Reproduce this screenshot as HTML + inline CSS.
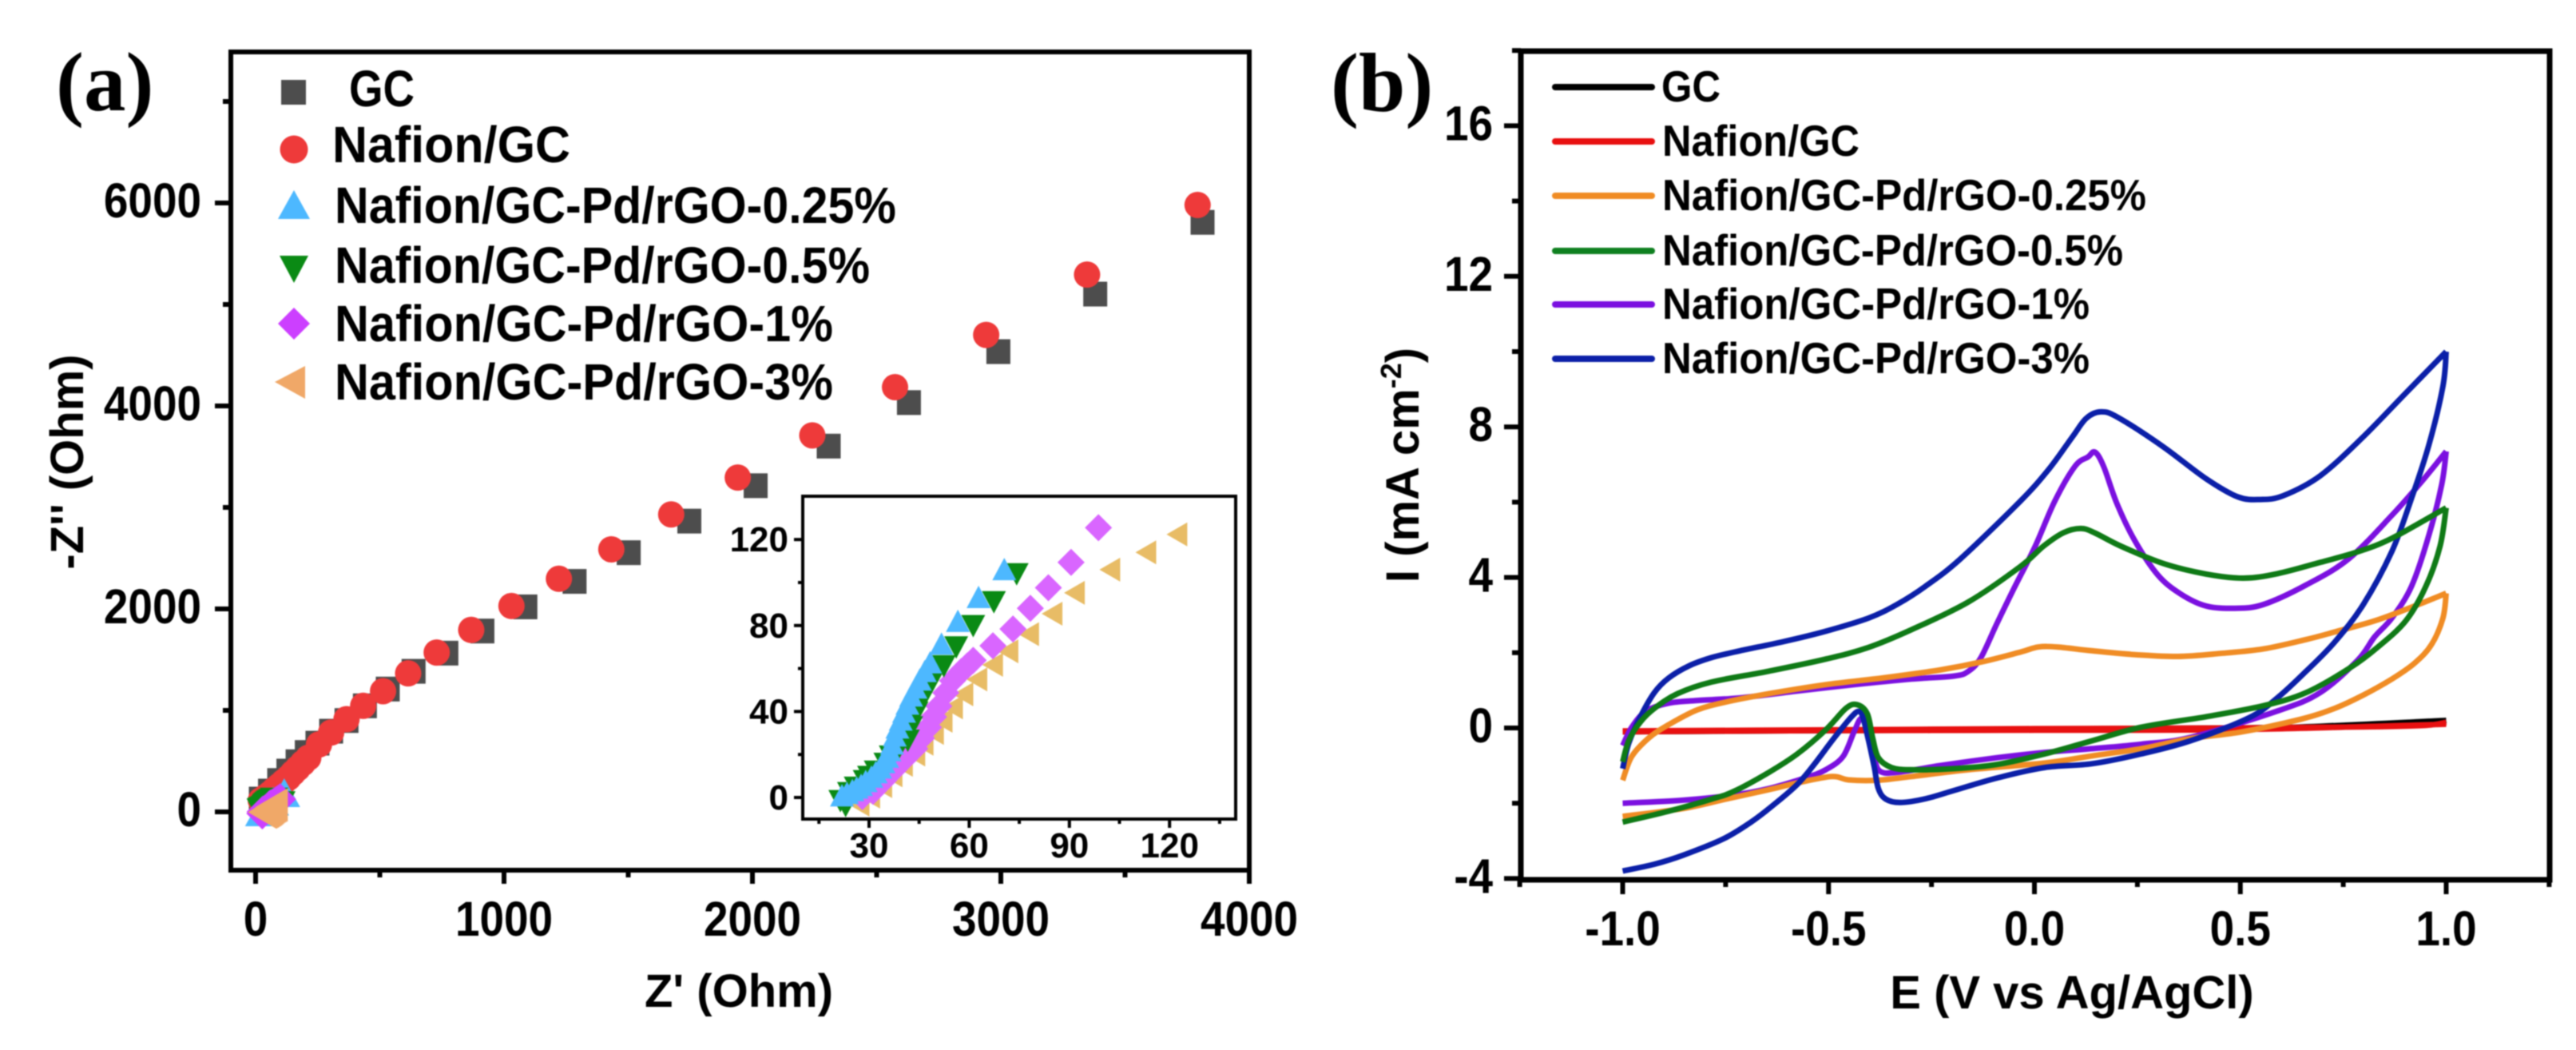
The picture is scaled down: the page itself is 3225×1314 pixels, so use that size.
<!DOCTYPE html>
<html lang="en">
<head>
<meta charset="utf-8">
<title>EIS and CV panels</title>
<style>
html,body{margin:0;padding:0;background:#fff;width:3225px;height:1314px;overflow:hidden}
svg{display:block;filter:blur(0.7px)}
text{font-family:"Liberation Sans",Arial,sans-serif;font-weight:700;fill:#000}
.panel{font-family:"Liberation Serif","Times New Roman",serif;font-size:105px}
.lega{font-size:64px}
.legb{font-size:55px}
.title{font-size:58px}
</style>
</head>
<body>
<svg id="figure" xmlns="http://www.w3.org/2000/svg" width="3225" height="1314" viewBox="0 0 3225 1314">
  <rect width="3225" height="1314" fill="#fff"/>
  <g id="panelA">
    <text class="panel" x="70" y="138">(a)</text>
    <g id="marksA"></g>
    <rect x="289" y="65" width="1275" height="1024" fill="none" stroke="#000" stroke-width="6"/>
    <g id="ticksA"></g>
    <text class="title" x="925" y="1260" text-anchor="middle">Z' (Ohm)</text>
    <text class="title" transform="translate(104,578) rotate(-90)" text-anchor="middle">-Z'' (Ohm)</text>
    <g>
      <rect x="352" y="100" width="31" height="31" fill="#4d4d4d"/>
      <circle cx="368" cy="187" r="17.5" fill="#ee3a3a"/>
      <polygon points="368,238 388,274 348,274" fill="#4db8ff"/>
      <polygon points="350,320 386,320 368,354" fill="#0a8a14"/>
      <polygon points="368,385 388,405 368,425 348,405" fill="#cc3fff"/>
      <polygon points="344,478 382,458 382,499" fill="#f0a868"/>
      <text class="lega" x="437" y="133" textLength="82" lengthAdjust="spacingAndGlyphs">GC</text>
      <text class="lega" x="416" y="203" textLength="298" lengthAdjust="spacingAndGlyphs">Nafion/GC</text>
      <text class="lega" x="419" y="279" textLength="703" lengthAdjust="spacingAndGlyphs">Nafion/GC-Pd/rGO-0.25%</text>
      <text class="lega" x="419" y="354" textLength="670" lengthAdjust="spacingAndGlyphs">Nafion/GC-Pd/rGO-0.5%</text>
      <text class="lega" x="419" y="427" textLength="624" lengthAdjust="spacingAndGlyphs">Nafion/GC-Pd/rGO-1%</text>
      <text class="lega" x="419" y="500" textLength="624" lengthAdjust="spacingAndGlyphs">Nafion/GC-Pd/rGO-3%</text>
    </g>
    <g>
      <rect x="1005" y="621" width="542" height="404" fill="#fff" stroke="#000" stroke-width="4"/>
      <g id="marksI"></g>
      <g id="ticksI"></g>
    </g>
  </g>
  <g id="panelB">
    <text class="panel" x="1666" y="139">(b)</text>
    <g id="linesB"></g>
    <rect x="1904" y="64" width="1288" height="1037" fill="none" stroke="#000" stroke-width="7"/>
    <g id="ticksB"></g>
    <text class="title" x="2594" y="1262" text-anchor="middle">E (V vs Ag/AgCl)</text>
    <text class="title" transform="translate(1776,582) rotate(-90)" text-anchor="middle">I (mA cm<tspan font-size="36" dy="-22">-2</tspan><tspan dy="22">)</tspan></text>
    <g>
      <line x1="1947" x2="2068" y1="109" y2="109" stroke="#000" stroke-width="8" stroke-linecap="round"/>
      <line x1="1947" x2="2068" y1="177" y2="177" stroke="#e81010" stroke-width="8" stroke-linecap="round"/>
      <line x1="1947" x2="2068" y1="245" y2="245" stroke="#f08c24" stroke-width="8" stroke-linecap="round"/>
      <line x1="1947" x2="2068" y1="314" y2="314" stroke="#0f8020" stroke-width="8" stroke-linecap="round"/>
      <line x1="1947" x2="2068" y1="381" y2="381" stroke="#7b10e0" stroke-width="8" stroke-linecap="round"/>
      <line x1="1947" x2="2068" y1="449" y2="449" stroke="#0b1fa8" stroke-width="8" stroke-linecap="round"/>
      <text class="legb" x="2080" y="127" textLength="74" lengthAdjust="spacingAndGlyphs">GC</text>
      <text class="legb" x="2081" y="195" textLength="247" lengthAdjust="spacingAndGlyphs">Nafion/GC</text>
      <text class="legb" x="2081" y="263" textLength="606" lengthAdjust="spacingAndGlyphs">Nafion/GC-Pd/rGO-0.25%</text>
      <text class="legb" x="2081" y="332" textLength="577" lengthAdjust="spacingAndGlyphs">Nafion/GC-Pd/rGO-0.5%</text>
      <text class="legb" x="2081" y="399" textLength="535" lengthAdjust="spacingAndGlyphs">Nafion/GC-Pd/rGO-1%</text>
      <text class="legb" x="2081" y="467" textLength="535" lengthAdjust="spacingAndGlyphs">Nafion/GC-Pd/rGO-3%</text>
    </g>
  </g>
</svg>
<script>
/* ---------- Panel (a) data: [Z', -Z''] in Ohm ---------- */
const gcPoints=[[3812,5809],[3380,5102],[2990,4535],[2630,4033],[2307,3604],[2013,3214],[1746,2865],[1502,2554],[1284,2271],[1086,2020],[913,1782],[768,1564],[636,1385],[532,1210],[440,1045],[366,900],[304,795],[249,677],[206,585],[169,494],[132,402],[95,309],[58,205],[21,126]];
const nafionPoints=[[3792,5980],[3347,5294],[2941,4700],[2574,4185],[2241,3710],[1941,3294],[1673,2931],[1432,2587],[1221,2297],[1030,2029],[868,1793],[729,1570],[614,1365],[513,1189],[433,1045],[366,913],[304,782],[255,664],[212,533],[190,480],[169,428],[150,382],[132,336],[113,296],[95,257],[76,218],[58,179],[40,146],[21,113]];
const pd025Points=[[70.5,106.3],[62.8,93.3],[56.6,82.2],[51.7,71.6],[48.3,62.9],[46.7,58.9],[45.2,54.9],[43.9,51.2],[42.6,47.5],[41.5,43.7],[40.5,40],[39.5,36.3],[38.5,32.6],[37.7,28.9],[36.9,25.2],[36.1,22],[35.4,19],[34.3,16.5],[33.3,14],[32,11.8],[30.7,9.7],[29,7.7],[27.6,5.9],[26.3,4.7],[25,3.5],[23.4,2.2],[21.9,1]];
const pd05Points=[[74.2,103.8],[67.4,90.8],[61.2,79.7],[56.1,69.8],[52.4,61],[48.8,53.7],[46.2,46.2],[44.2,39.4],[42.6,32.6],[41.6,26.4],[39,23],[36.5,19],[34.9,15.6],[32,12],[30,9.5],[28.7,7.6],[26,4.5],[24,2],[21.4,-1.7],[23,-4]];
const pd1Points=[[98.7,125.5],[90.5,109.4],[83.7,97.6],[78.3,88],[73.1,78.4],[67.1,70.6],[61.2,63.8],[59.4,61.2],[57.6,58.6],[55,54.3],[53,48.7],[50.9,42.5],[49.3,37.5],[47.8,32.6],[45.7,27.6],[43.7,22.7],[40.5,17.7],[37.4,12.8],[34.3,7.8],[31.2,2.9],[28,0.4]];
const pd3Points=[[122.2,122.4],[112.9,114],[102.1,106],[91.5,95.2],[84.8,85.5],[77.8,76],[71.6,68],[67,61.7],[62.3,54.9],[58.1,48],[55,41.9],[51.9,35.7],[49.3,30],[46.2,25],[43.7,20],[40,15.2],[36.9,10.3],[33.8,5.3],[30.2,0.4],[27,-3.3]];
/* low-frequency tails seen only on the main axes */
const pd025Tail=[[115,189]];
const pd05Tail=[[103,70]];
const pd1Tail=[[80,80],[27,-16]];
const pd3MainLimit=[75];

const xTicksA=[0,1000,2000,3000,4000];
const xMinorA=[500,1500,2500,3500];
const yTicksA=[0,2000,4000,6000];
const yMinorA=[1000,3000,5000,7000];
const xTicksI=[30,60,90,120];
const xMinorI=[15,45,75,105,135];
const yTicksI=[0,40,80,120];
const yMinorI=[20,60,100];

/* ---------- Panel (b) data: [E, I] ---------- */
const gcForward=[[-1,-0.1],[-0.5,-0.06],[0,-0.03],[0.5,0],[0.8,0.04],[0.95,0.1],[1,0.2]];
const gcReturn=[[1,0.2],[0.5,-0.03],[0,-0.05],[-0.5,-0.07],[-1,-0.1]];
const nafionForward=[[-1,-0.08],[-0.5,-0.05],[0,-0.02],[0.5,0],[0.8,0.03],[0.95,0.07],[1,0.15]];
const nafionReturn=[[1,0.1],[0.5,-0.04],[0,-0.06],[-0.5,-0.07],[-1,-0.1]];
const orangeForward=[[-1,-1.39],[-0.978,-0.76],[-0.936,-0.26],[-0.888,0.09],[-0.819,0.48],[-0.749,0.69],[-0.645,0.91],[-0.507,1.15],[-0.368,1.33],[-0.23,1.54],[-0.126,1.76],[-0.033,2.02],[0.009,2.15],[0.057,2.15],[0.14,2.05],[0.244,1.95],[0.348,1.9],[0.452,1.98],[0.556,2.1],[0.66,2.35],[0.729,2.55],[0.833,2.87],[0.937,3.3],[1,3.58]];
const orangeReturn=[[1,3.58],[0.992,2.92],[0.964,2.21],[0.923,1.72],[0.868,1.3],[0.798,0.87],[0.729,0.52],[0.646,0.23],[0.5,-0.11],[0.379,-0.28],[0.259,-0.55],[0.14,-0.74],[0.025,-0.93],[-0.16,-1.11],[-0.299,-1.29],[-0.382,-1.39],[-0.451,-1.38],[-0.493,-1.29],[-0.576,-1.46],[-0.645,-1.64],[-0.749,-1.89],[-0.853,-2.14],[-1,-2.35]];
const greenForward=[[-1,-0.9],[-0.985,-0.33],[-0.957,0.16],[-0.923,0.52],[-0.867,0.91],[-0.784,1.22],[-0.645,1.51],[-0.507,1.83],[-0.403,2.14],[-0.299,2.61],[-0.16,3.35],[-0.033,4.3],[0.022,4.83],[0.071,5.19],[0.113,5.3],[0.147,5.18],[0.21,4.83],[0.313,4.37],[0.417,4.09],[0.507,3.98],[0.59,4.1],[0.694,4.4],[0.785,4.68],[0.868,5.04],[1,5.85]];
const greenReturn=[[1,5.85],[0.985,4.83],[0.951,3.77],[0.902,2.85],[0.833,2.14],[0.764,1.58],[0.66,0.94],[0.556,0.59],[0.417,0.3],[0.259,0.02],[0.14,-0.34],[0.025,-0.69],[-0.091,-0.97],[-0.195,-1.08],[-0.299,-1.11],[-0.347,-1.05],[-0.379,-0.79],[-0.393,-0.26],[-0.406,0.38],[-0.431,0.62],[-0.458,0.52],[-0.507,-0.05],[-0.576,-0.69],[-0.645,-1.18],[-0.729,-1.68],[-0.784,-1.89],[-0.888,-2.21],[-1,-2.5]];
const purpleForward=[[-1,-0.47],[-0.978,0.02],[-0.943,0.45],[-0.888,0.66],[-0.819,0.73],[-0.715,0.8],[-0.576,0.98],[-0.438,1.15],[-0.299,1.3],[-0.195,1.38],[-0.16,1.51],[-0.13,1.87],[-0.091,2.78],[-0.05,3.7],[0.002,4.83],[0.05,6.04],[0.099,6.96],[0.13,7.2],[0.147,7.33],[0.168,6.95],[0.2,5.97],[0.244,4.97],[0.3,4.06],[0.355,3.56],[0.417,3.24],[0.487,3.18],[0.556,3.28],[0.66,3.8],[0.764,4.5],[0.868,5.65],[0.937,6.5],[1,7.35]];
const purpleReturn=[[1,7.35],[0.989,6.46],[0.958,5.12],[0.916,3.77],[0.868,2.92],[0.826,2.42],[0.785,1.8],[0.694,0.94],[0.59,0.45],[0.379,-0.25],[0.259,-0.43],[0.14,-0.55],[0.025,-0.65],[-0.091,-0.79],[-0.23,-1],[-0.334,-1.18],[-0.375,-1.15],[-0.389,-0.79],[-0.406,-0.02],[-0.421,0.25],[-0.438,-0.1],[-0.465,-0.76],[-0.507,-1.11],[-0.555,-1.32],[-0.645,-1.61],[-0.729,-1.78],[-0.853,-1.92],[-1,-2.0]];
const blueForward=[[-1,-1.08],[-0.985,-0.4],[-0.957,0.3],[-0.923,0.94],[-0.888,1.33],[-0.839,1.65],[-0.784,1.87],[-0.715,2.05],[-0.611,2.29],[-0.507,2.57],[-0.403,2.92],[-0.334,3.28],[-0.264,3.77],[-0.181,4.48],[-0.033,6.04],[0.036,6.89],[0.092,7.73],[0.126,8.23],[0.161,8.4],[0.203,8.25],[0.313,7.47],[0.417,6.62],[0.494,6.14],[0.549,6.07],[0.604,6.17],[0.694,6.7],[0.798,7.73],[0.902,8.9],[1,10]];
const blueReturn=[[1,10],[0.992,9.08],[0.958,7.52],[0.916,6.11],[0.868,4.69],[0.798,3.27],[0.729,2.28],[0.66,1.51],[0.59,0.8],[0.521,0.27],[0.379,-0.34],[0.259,-0.69],[0.14,-0.95],[0.025,-1.05],[-0.091,-1.33],[-0.195,-1.66],[-0.264,-1.88],[-0.327,-1.98],[-0.361,-1.89],[-0.379,-1.61],[-0.389,-1.04],[-0.403,-0.33],[-0.417,0.3],[-0.427,0.44],[-0.444,0.3],[-0.486,-0.26],[-0.535,-0.97],[-0.576,-1.5],[-0.632,-2.03],[-0.687,-2.49],[-0.756,-2.95],[-0.853,-3.38],[-0.923,-3.62],[-1,-3.8]];

const xTicksB=[-1,-0.5,0,0.5,1];
const xTickLabelsB=['-1.0','-0.5','0.0','0.5','1.0'];
const xMinorB=[-1.25,-0.75,-0.25,0.25,0.75,1.25];
const yTicksB=[-4,0,4,8,12,16];
const yMinorB=[-2,2,6,10,14,18];

/* ---------- axis functions ---------- */
function xA(v){return 320+v*0.311;}
function yA(v){return 1016-v*0.127;}
function xI(v){return 1088+(v-30)*4.18;}
function yI(v){return 998-v*2.69;}
function xB(v){return 2547+v*515.5;}
function yB(v){return 911-v*47.1;}

const NS='http://www.w3.org/2000/svg';
function make(tag,parent,name){
  const el=document.createElementNS(NS,tag);
  
  
  parent.appendChild(el);
  return el;
}
function label(parent,name,str,x,y,size,anchor,sx){
  const t=make('text',parent,name);
  t.textContent=str;
  t.setAttribute('font-size',size);
  t.setAttribute('text-anchor',anchor);
  t.setAttribute('transform','translate('+x+','+y+') scale('+sx+',1)');
}
function tick(parent,name,x1,y1,x2,y2,w){
  const l=make('line',parent,name);
  l.setAttribute('x1',x1);l.setAttribute('y1',y1);l.setAttribute('x2',x2);l.setAttribute('y2',y2);
  l.setAttribute('stroke','#000');l.setAttribute('stroke-width',w);
}
function poly(parent,name,fill,pts){
  const p=make('polygon',parent,name);
  p.setAttribute('points',pts.map(function(q){return q[0].toFixed(1)+','+q[1].toFixed(1);}).join(' '));
  p.setAttribute('fill',fill);
}
const shapes={
  square:function(par,n,f,x,y,s){const r=make('rect',par,n);r.setAttribute('x',x-s.w);r.setAttribute('y',y-s.h);r.setAttribute('width',2*s.w);r.setAttribute('height',2*s.h);r.setAttribute('fill',f);},
  circle:function(par,n,f,x,y,s){const c=make('ellipse',par,n);c.setAttribute('cx',x);c.setAttribute('cy',y);c.setAttribute('rx',s.w);c.setAttribute('ry',s.h);c.setAttribute('fill',f);},
  up:function(par,n,f,x,y,s){poly(par,n,f,[[x,y-s.h],[x+s.w,y+s.h],[x-s.w,y+s.h]]);},
  down:function(par,n,f,x,y,s){poly(par,n,f,[[x-s.w,y-s.h],[x+s.w,y-s.h],[x,y+s.h]]);},
  diamond:function(par,n,f,x,y,s){poly(par,n,f,[[x,y-s.h],[x+s.w,y],[x,y+s.h],[x-s.w,y]]);},
  left:function(par,n,f,x,y,s){poly(par,n,f,[[x-s.w,y],[x+s.w,y-s.h],[x+s.w,y+s.h]]);}
};
function scatter(parent,name,points,shape,fill,size,fx,fy){
  const g=make('g',parent,name);
  points.slice().reverse().forEach(function(p){
    shapes[shape](g,name+'-point',fill,fx(p[0]),fy(p[1]),size);
  });
}

/* panel a marks */
const marksA=document.getElementById('marksA');
scatter(marksA,'series-gc',gcPoints,'square','#4d4d4d',{w:15,h:15.5},xA,yA);
scatter(marksA,'series-nafion',nafionPoints,'circle','#ee3a3a',{w:16.5,h:16.5},xA,yA);
scatter(marksA,'series-pd-025',pd025Points.concat(pd025Tail),'up','#4db8ff',{w:20,h:18},xA,yA);
scatter(marksA,'series-pd-05',pd05Points.concat(pd05Tail),'down','#0a8a14',{w:18,h:17},xA,yA);
scatter(marksA,'series-pd-1',pd1Points.concat(pd1Tail),'diamond','#cc3fff',{w:20,h:20},xA,yA);
scatter(marksA,'series-pd-3',pd3Points.filter(function(p){return p[0]<=pd3MainLimit[0];}),'left','#f0a868',{w:18,h:21},xA,yA);

/* panel a ticks */
const ticksA=document.getElementById('ticksA');
xTicksA.forEach(function(v){
  tick(ticksA,'x-tick-a',xA(v),1089,xA(v),1106,6);
  label(ticksA,'x-tick-label-a',String(v),xA(v),1171,61,'middle',0.9);
});
xMinorA.forEach(function(v){tick(ticksA,'x-minor-tick-a',xA(v),1089,xA(v),1098,6);});
yTicksA.forEach(function(v){
  tick(ticksA,'y-tick-a',269,yA(v),289,yA(v),6);
  label(ticksA,'y-tick-label-a',String(v),252,yA(v)+18,61,'end',0.9);
});
yMinorA.forEach(function(v){tick(ticksA,'y-minor-tick-a',279,yA(v),289,yA(v),6);});

/* inset marks */
const marksI=document.getElementById('marksI');
scatter(marksI,'inset-series-pd-3',pd3Points,'left','#e8bc66',{w:13,h:15},xI,yI);
scatter(marksI,'inset-series-pd-1',pd1Points,'diamond','#d966ff',{w:17,h:17},xI,yI);
scatter(marksI,'inset-series-pd-05',pd05Points,'down','#0a8a14',{w:15,h:14},xI,yI);
scatter(marksI,'inset-series-pd-025',pd025Points,'up','#4db8ff',{w:15,h:14},xI,yI);

/* inset ticks */
const ticksI=document.getElementById('ticksI');
xTicksI.forEach(function(v){
  tick(ticksI,'inset-x-tick',xI(v),1025,xI(v),1036,4);
  label(ticksI,'inset-x-tick-label',String(v),xI(v),1073,44,'middle',1);
});
xMinorI.forEach(function(v){tick(ticksI,'inset-x-minor-tick',xI(v),1025,xI(v),1031,4);});
yTicksI.forEach(function(v){
  tick(ticksI,'inset-y-tick',994,yI(v),1005,yI(v),4);
  label(ticksI,'inset-y-tick-label',String(v),987,yI(v)+15,44,'end',1);
});
yMinorI.forEach(function(v){tick(ticksI,'inset-y-minor-tick',999,yI(v),1005,yI(v),4);});

/* panel b lines */
function smoothPath(points){
  const p=points.map(function(q){return [xB(q[0]),yB(q[1])];});
  let d='M'+p[0][0].toFixed(1)+' '+p[0][1].toFixed(1);
  for(let i=0;i<p.length-1;i++){
    const a=p[Math.max(i-1,0)],b=p[i],c=p[i+1],e=p[Math.min(i+2,p.length-1)];
    const c1x=b[0]+(c[0]-a[0])/6,c1y=b[1]+(c[1]-a[1])/6,c2x=c[0]-(e[0]-b[0])/6,c2y=c[1]-(e[1]-b[1])/6;
    d+='C'+c1x.toFixed(1)+' '+c1y.toFixed(1)+' '+c2x.toFixed(1)+' '+c2y.toFixed(1)+' '+c[0].toFixed(1)+' '+c[1].toFixed(1);
  }
  return d;
}
function cvCurve(name,color,forward,back){
  const g=document.getElementById('linesB');
  const path=make('path',g,name);
  path.setAttribute('d',smoothPath(forward)+' '+smoothPath(back));
  path.setAttribute('fill','none');
  path.setAttribute('stroke',color);
  path.setAttribute('stroke-width',7);
  path.setAttribute('stroke-linejoin','round');
}
cvCurve('curve-gc','#000',gcForward,gcReturn);
cvCurve('curve-nafion','#e81010',nafionForward,nafionReturn);
cvCurve('curve-pd-1','#7b10e0',purpleForward,purpleReturn);
cvCurve('curve-pd-025','#f08c24',orangeForward,orangeReturn);
cvCurve('curve-pd-3','#0b1fa8',blueForward,blueReturn);
cvCurve('curve-pd-05','#0f7a16',greenForward,greenReturn);

/* panel b ticks */
const ticksB=document.getElementById('ticksB');
xTicksB.forEach(function(v,i){
  tick(ticksB,'x-tick-b',xB(v),1101,xB(v),1119,6);
  label(ticksB,'x-tick-label-b',xTickLabelsB[i],xB(v),1183,61,'middle',0.9);
});
xMinorB.forEach(function(v){tick(ticksB,'x-minor-tick-b',xB(v),1101,xB(v),1110,6);});
yTicksB.forEach(function(v){
  tick(ticksB,'y-tick-b',1883,yB(v),1904,yB(v),6);
  label(ticksB,'y-tick-label-b',String(v),1869,yB(v)+18,61,'end',0.9);
});
yMinorB.forEach(function(v){tick(ticksB,'y-minor-tick-b',1893,yB(v),1904,yB(v),6);});
</script>
</body>
</html>
